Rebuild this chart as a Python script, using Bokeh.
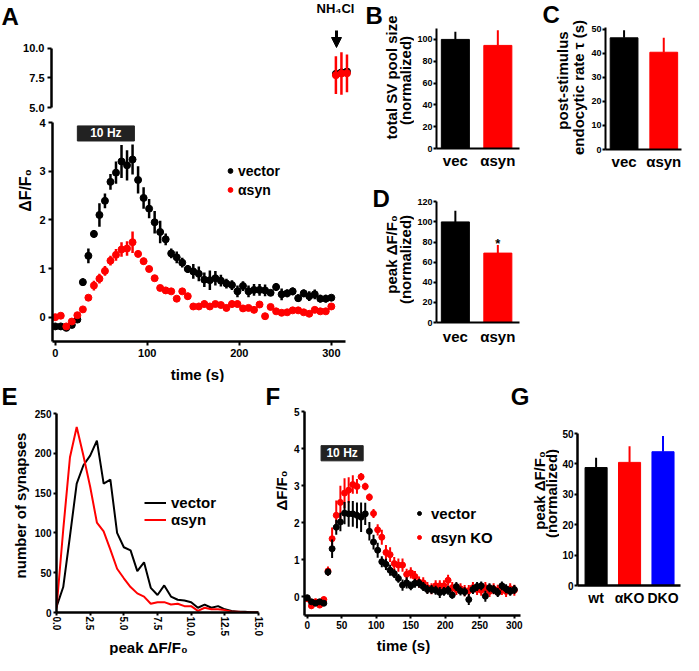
import math
from bokeh.plotting import figure
from bokeh.layouts import row, column
from bokeh.models import (Range1d, Label, Legend, LegendItem, FixedTicker,
                          PrintfTickFormatter, Arrow, NormalHead, Spacer, ColumnDataSource)
from bokeh.embed import file_html
from bokeh.resources import INLINE

FONT = "Liberation Sans"
BLACK = "#000000"
RED = "#ff0000"
BLUE = "#0000ff"

# ---------------- data ----------------
# Panel A: time course (s) and dF/F0
t_A = list(range(0, 301, 6))
vec_A = [-0.19, -0.19, -0.22, -0.16, -0.05, 0.72, 1.26, 1.71, 2.10, 2.39,
         2.78, 2.97, 3.20, 3.12, 3.24, 2.82, 2.45, 2.23, 1.95, 1.75,
         1.60, 1.31, 1.23, 1.12, 0.99, 0.94, 0.89, 0.77, 0.76, 0.80,
         0.75, 0.69, 0.66, 0.53, 0.64, 0.53, 0.56, 0.56, 0.55, 0.50,
         0.62, 0.47, 0.49, 0.53, 0.39, 0.49, 0.43, 0.47, 0.38, 0.38, 0.40]
vec_A_err = [0.05, 0.04, 0.05, 0.05, 0.05, 0.08, 0.15, 0.08, 0.24, 0.15,
             0.16, 0.23, 0.34, 0.31, 0.31, 0.28, 0.22, 0.20, 0.23, 0.23,
             0.12, 0.10, 0.12, 0.10, 0.08, 0.15, 0.15, 0.15, 0.20, 0.15,
             0.12, 0.10, 0.10, 0.12, 0.10, 0.12, 0.12, 0.12, 0.12, 0.05,
             0.08, 0.12, 0.08, 0.08, 0.08, 0.08, 0.10, 0.10, 0.08, 0.08, 0.05]
syn_A = [0.00, 0.03, -0.19, -0.09, 0.04, 0.16, 0.40, 0.65, 0.79, 0.95,
         1.16, 1.28, 1.39, 1.41, 1.54, 1.30, 1.15, 0.99, 0.80, 0.60,
         0.55, 0.53, 0.38, 0.53, 0.43, 0.22, 0.22, 0.27, 0.22, 0.27,
         0.25, 0.19, 0.27, 0.27, 0.18, 0.19, 0.15, 0.26, 0.02, 0.21,
         0.12, 0.09, 0.10, 0.14, 0.14, 0.10, 0.07, 0.15, 0.12, 0.12, 0.22]
syn_A_err = [0.03, 0.03, 0.04, 0.04, 0.05, 0.04, 0.04, 0.10, 0.10, 0.10,
             0.10, 0.12, 0.15, 0.15, 0.22, 0.07, 0.07, 0.04, 0.04, 0.04,
             0.04, 0.04, 0.04, 0.04, 0.07, 0.04, 0.06, 0.07, 0.04, 0.04,
             0.06, 0.07, 0.07, 0.07, 0.06, 0.05, 0.05, 0.04, 0.04, 0.05,
             0.04, 0.04, 0.04, 0.05, 0.06, 0.05, 0.06, 0.04, 0.04, 0.04, 0.04]
stim_A = (24, 86)
# NH4Cl points
t_nh4 = [305, 311, 317]
vec_nh4 = [7.85, 7.98, 8.05]
vec_nh4_err = [0.3, 0.3, 0.3]
syn_nh4 = [7.74, 7.88, 7.90]
syn_nh4_err = [1.6, 1.8, 1.6]

# Panels B, C, D: bars (vector, alpha-syn)
bar_labels = ["vec", "αsyn"]
pool_B = [100, 94.5]
pool_B_err = [7, 14]
tau_C = [46.5, 40.5]
tau_C_err = [3.2, 6]
peak_D = [100, 69]
peak_D_err = [11, 8]

# Panel E: histogram of peak dF/F0
E_x = [i * 0.5 for i in range(31)]
E_vec = [7, 32, 96, 162, 185, 197, 216, 162, 167, 100, 82, 78, 52, 63, 31, 22,
         34, 20, 16, 15, 13, 6, 10, 6, 8, 4, 2, 1, 1, 0, 0]
E_syn = [5, 104, 195, 233, 197, 158, 113, 102, 79, 55, 43, 32, 24, 20, 11, 13,
         13, 10, 11, 8, 8, 2, 6, 4, 4, 3, 1, 1, 0, 0, 0]

# Panel F: time course, vector vs alpha-syn KO
t_F = list(range(0, 301, 6))
vec_F = [-0.02, -0.13, -0.17, -0.13, -0.17, 0.67, 1.30, 1.88, 2.02, 2.26,
         2.24, 2.24, 2.20, 2.15, 2.24, 1.77, 1.48, 1.26, 0.95, 0.88,
         0.72, 0.63, 0.50, 0.32, 0.38, 0.30, 0.37, 0.37, 0.28, 0.20,
         0.20, 0.18, 0.12, 0.15, 0.18, 0.05, 0.28, 0.16, 0.14, -0.07,
         0.20, 0.28, 0.30, 0.02, 0.25, 0.20, 0.12, 0.30, 0.22, 0.15, 0.20]
vec_F_err = [0.07, 0.07, 0.07, 0.07, 0.07, 0.10, 0.25, 0.20, 0.25, 0.30,
             0.35, 0.35, 0.35, 0.40, 0.30, 0.25, 0.20, 0.20, 0.15, 0.15,
             0.15, 0.12, 0.12, 0.15, 0.15, 0.12, 0.12, 0.12, 0.12, 0.12,
             0.12, 0.12, 0.15, 0.12, 0.12, 0.10, 0.12, 0.12, 0.12, 0.15,
             0.12, 0.12, 0.12, 0.15, 0.12, 0.12, 0.12, 0.12, 0.12, 0.12, 0.12]
syn_F = [-0.05, -0.24, -0.13, -0.22, -0.07, 0.70, 1.57, 2.20, 2.55, 2.80,
         2.88, 3.03, 2.98, 3.24, 2.98, 2.69, 2.25, 1.81, 1.61, 1.20,
         1.14, 0.90, 0.86, 0.86, 0.61, 0.65, 0.55, 0.40, 0.38, 0.25,
         0.22, 0.30, 0.30, 0.30, 0.45, 0.25, 0.20, 0.22, 0.17, 0.17,
         0.25, 0.20, 0.18, 0.25, 0.15, 0.22, 0.18, 0.20, 0.15, 0.22, 0.18]
syn_F_err = [0.08, 0.08, 0.08, 0.08, 0.08, 0.12, 0.30, 0.40, 0.45, 0.40,
             0.35, 0.25, 0.20, 0.10, 0.10, 0.10, 0.12, 0.15, 0.20, 0.20,
             0.20, 0.18, 0.18, 0.18, 0.15, 0.15, 0.15, 0.15, 0.15, 0.15,
             0.15, 0.15, 0.15, 0.15, 0.15, 0.15, 0.15, 0.15, 0.15, 0.15,
             0.15, 0.15, 0.15, 0.15, 0.15, 0.15, 0.15, 0.15, 0.15, 0.15, 0.15]
stim_F = (20, 81)

# Panel G: bars (wt, alpha KO, DKO)
G_labels = ["wt", "αKO", "DKO"]
G_vals = [38.8, 40.5, 44.0]
G_err = [3.2, 5.3, 5.2]
G_colors = [BLACK, RED, BLUE]


# ---------------- helpers ----------------
def W(p):
    # wrap each plot so that sibling plots do not get their borders aligned
    return column(p)


def mklabel(x, y, s, size, align="center", baseline="middle", angle=0, color=BLACK):
    return Label(x=x, y=y, text=s, text_font=FONT, text_font_size=f"{size}px",
                 text_font_style="bold", text_align=align, text_baseline=baseline,
                 angle=angle, text_color=color)


class Panel:
    def __init__(self, ox, oy, w, h, left, right, top, bottom, xr, yr, **kw):
        self.fl = ox + left
        self.ft = oy + top
        self.fw = w - left - right
        self.fh = h - top - bottom
        self.xr, self.yr = xr, yr
        p = figure(width=w, height=h, x_range=Range1d(*xr), y_range=Range1d(*yr),
                   output_backend="svg", toolbar_location=None,
                   min_border_left=left, min_border_right=right,
                   min_border_top=top, min_border_bottom=bottom, **kw)
        p.outline_line_color = None
        p.grid.visible = False
        p.background_fill_color = "white"
        p.border_fill_color = "white"
        self.p = p

    def dx(self, px):
        return self.xr[0] + (px - self.fl) / self.fw * (self.xr[1] - self.xr[0])

    def dy(self, py):
        return self.yr[1] - (py - self.ft) / self.fh * (self.yr[1] - self.yr[0])

    def text(self, px, py, s, size, **kw):
        self.p.add_layout(mklabel(self.dx(px), self.dy(py), s, size, **kw))


class Strip:
    """A plain plot used only to carry text (frame covers the whole area)."""
    def __init__(self, ox, oy, w, h):
        self.ox, self.oy, self.h = ox, oy, h
        p = figure(width=w, height=h, x_range=Range1d(0, w), y_range=Range1d(0, h),
                   x_axis_location=None, y_axis_location=None,
                   output_backend="svg", toolbar_location=None,
                   min_border_left=0, min_border_right=0,
                   min_border_top=0, min_border_bottom=0)
        p.outline_line_color = None
        p.grid.visible = False
        p.background_fill_color = "white"
        p.border_fill_color = "white"
        self.p = p

    def text(self, px, py, s, size, **kw):
        self.p.add_layout(mklabel(px - self.ox, self.h - (py - self.oy), s, size, **kw))


def style_axis(ax, size, lw=2.5, ticks=None, fmt=None, tick_out=4, standoff=3):
    ax.axis_line_width = lw
    ax.axis_line_color = BLACK
    ax.major_tick_line_width = 2
    ax.major_tick_line_color = BLACK
    ax.major_tick_out = tick_out
    ax.major_tick_in = 0
    ax.minor_tick_line_color = None
    ax.major_label_text_font = FONT
    ax.major_label_text_font_style = "bold"
    ax.major_label_text_font_size = f"{size}px"
    ax.major_label_text_color = BLACK
    ax.major_label_standoff = standoff
    if ticks is not None:
        ax.ticker = FixedTicker(ticks=ticks)
    if fmt is not None:
        ax.formatter = PrintfTickFormatter(format=fmt)


def cat_axis(ax, labels, size, standoff):
    ax.ticker = FixedTicker(ticks=list(range(1, len(labels) + 1)))
    ax.major_label_overrides = {i + 1: lab for i, lab in enumerate(labels)}
    ax.major_tick_line_color = None
    ax.major_tick_out = 0
    ax.major_label_text_font_size = f"{size}px"
    ax.major_label_standoff = standoff


def errbars(p, x, y, e, color, lw):
    src = ColumnDataSource(dict(x=x, lo=[a - b for a, b in zip(y, e)],
                                hi=[a + b for a, b in zip(y, e)]))
    p.segment(x0="x", y0="lo", x1="x", y1="hi", source=src, line_color=color,
              line_width=lw)


def bars(p, vals, errs, colors, width):
    xs = list(range(1, len(vals) + 1))
    p.vbar(x=xs, top=vals, bottom=0, width=width, fill_color=colors,
           line_color=colors)
    p.segment(x0=xs, y0=vals, x1=xs, y1=[v + e for v, e in zip(vals, errs)],
              line_color=colors, line_width=2)


def legend(p, items, loc, gw, gh, standoff, size):
    lg = Legend(items=[LegendItem(label=l, renderers=[r]) for l, r in items],
                location=loc, glyph_width=gw, glyph_height=gh, label_height=gh,
                label_standoff=standoff, spacing=0, padding=0, margin=0,
                border_line_color=None, background_fill_alpha=0,
                label_text_font=FONT, label_text_font_style="bold",
                label_text_font_size=f"{size}px", label_text_color=BLACK)
    p.add_layout(lg)


ROT = math.pi / 2
LET = 24  # panel letter size

# ---------------- Panel A (broken axis) ----------------
A_strip = Strip(8, 8, 364, 29)
A_strip.text(9, 23.5, "A", LET, align="left")
A_strip.text(343, 16, "NH₄Cl", 13)

Au = Panel(8, 37, 364, 85, 51, 13, 0, 7, (-3, 321.9), (5, 11.61), x_axis_location=None)
style_axis(Au.p.yaxis[0], 11, ticks=[5, 7.5, 10], fmt="%.1f")
Au.p.yaxis[0].bounds = (5, 10)
errbars(Au.p, t_nh4, vec_nh4, vec_nh4_err, BLACK, 2.5)
Au.p.scatter(t_nh4, vec_nh4, size=7, color=BLACK)
errbars(Au.p, t_nh4, syn_nh4, syn_nh4_err, RED, 2.5)
Au.p.scatter(t_nh4, syn_nh4, size=7, color=RED)
Au.p.add_layout(Arrow(end=NormalHead(size=10, fill_color=BLACK, line_color=BLACK),
                      x_start=Au.dx(344), y_start=Au.dy(38), x_end=Au.dx(344),
                      y_end=Au.dy(55), line_width=3, line_color=BLACK))

A_ylab = Strip(8, 122, 36, 268)
A_ylab.text(33, 198, "ΔF/F₀", 16, angle=ROT)

Al = Panel(44, 122, 328, 248, 15, 19, 8, 21, (-3, 315.4), (-0.5, 4))
style_axis(Al.p.yaxis[0], 11, ticks=[0, 1, 2, 3, 4])
style_axis(Al.p.xaxis[0], 11, ticks=[0, 100, 200, 300])
Al.p.quad(left=[stim_A[0]], right=[stim_A[1]], bottom=[3.62], top=[3.93],
          fill_color="#222222", line_color="#222222")
Al.p.add_layout(mklabel((stim_A[0] + stim_A[1]) / 2, 3.775, "10 Hz", 12, color="white"))
errbars(Al.p, t_A, vec_A, vec_A_err, BLACK, 2.5)
rv = Al.p.scatter(t_A, vec_A, size=7, color=BLACK)
errbars(Al.p, t_A, syn_A, syn_A_err, RED, 2.5)
rs = Al.p.scatter(t_A, syn_A, size=7, color=RED)
legend(Al.p, [("vector", rv), ("αsyn", rs)], (172, 142), 12, 19, 2, 14)

A_xlab = Strip(44, 370, 328, 20)
A_xlab.text(205, 381.5, "time (s)", 15)

A_block = column(W(A_strip.p), W(Au.p),
                 row(W(A_ylab.p), column(W(Al.p), W(A_xlab.p))))

# ---------------- Panel B ----------------
B_text = Strip(372, 8, 50, 180)
B_text.text(373, 22.5, "B", LET, align="left")
B_text.text(399, 85, "total SV pool size", 15, angle=ROT)
B_text.text(413, 88, "(normalized)", 15, angle=ROT)

B = Panel(422, 8, 113, 180, 20, 8, 28, 32, (0.556, 2.51), (0, 110))
style_axis(B.p.yaxis[0], 9, lw=2, ticks=[0, 20, 40, 60, 80, 100], tick_out=3, standoff=1)
style_axis(B.p.xaxis[0], 15, lw=2)
cat_axis(B.p.xaxis[0], bar_labels, 15, 3)
bars(B.p, pool_B, pool_B_err, [BLACK, RED], 0.66)

# ---------------- Panel C ----------------
C_text = Strip(535, 8, 61, 180)
C_text.text(550, 22, "C", LET, align="left")
C_text.text(570, 88, "post-stimulus", 15, angle=ROT)
C_text.text(586, 95, "endocytic rate τ (s)", 15, angle=ROT)

C = Panel(596, 8, 95, 180, 16, 2, 27, 31, (0.532, 2.447), (0, 50.8))
style_axis(C.p.yaxis[0], 9, lw=2, ticks=[0, 10, 20, 30, 40, 50], tick_out=3, standoff=1)
style_axis(C.p.xaxis[0], 15, lw=2)
cat_axis(C.p.xaxis[0], bar_labels, 15, 3)
bars(C.p, tau_C, tau_C_err, [BLACK, RED], 0.70)

# ---------------- Panel D ----------------
D_text = Strip(372, 188, 50, 202)
D_text.text(380, 206, "D", LET, align="left")
D_text.text(399, 262, "peak ΔF/F₀", 15, angle=ROT)
D_text.text(413, 267, "(normalized)", 15, angle=ROT)

D = Panel(422, 188, 113, 202, 20, 8, 21, 60, (0.556, 2.51), (0, 120.3))
style_axis(D.p.yaxis[0], 9, lw=2, ticks=[0, 20, 40, 60, 80, 100, 120], tick_out=3, standoff=1)
style_axis(D.p.xaxis[0], 15, lw=2)
cat_axis(D.p.xaxis[0], bar_labels, 15, 5)
bars(D.p, peak_D, peak_D_err, [BLACK, RED], 0.66)
D.p.add_layout(mklabel(2, peak_D[1] + peak_D_err[1] + 2, "*", 13))

right_block = column(row(W(B_text.p), W(B.p), W(C_text.p), W(C.p)),
                     row(W(D_text.p), W(D.p), Spacer(width=156, height=202)))

# ---------------- Panel E ----------------
E_text = Strip(8, 392, 31, 273)
E_text.text(9, 406, "E", LET, align="left")
E_text.text(28, 515, "number of synapses", 15, angle=ROT)

E = Panel(39, 392, 233, 256, 23, 6, 31, 24, (0, 15), (0, 250))
style_axis(E.p.yaxis[0], 10, ticks=[0, 50, 100, 150, 200, 250], tick_out=3, standoff=2)
style_axis(E.p.xaxis[0], 10, ticks=[0, 2.5, 5, 7.5, 10, 12.5, 15], fmt="%.1f",
           tick_out=3, standoff=1)
E.p.xaxis.major_label_orientation = "vertical"
le_v = E.p.line(E_x, E_vec, line_color=BLACK, line_width=2)
le_s = E.p.line(E_x, E_syn, line_color=RED, line_width=2)
legend(E.p, [("vector", le_v), ("αsyn", le_s)], (88, 84), 22, 15, 5, 15)

E_xlab = Strip(39, 648, 233, 17)
E_xlab.text(156, 656.5, "peak ΔF/F₀", 15)

E_block = row(W(E_text.p), column(W(E.p), W(E_xlab.p)))

# ---------------- Panel F (frame extends up/right; axes bounded) ----------------
F_ylab = Strip(272, 392, 26, 273)
F_ylab.text(273, 406, "F", LET, align="left")
F_ylab.text(289, 500, "ΔF/F₀", 15, angle=ROT)

F = Panel(298, 392, 240, 254, 12, 0, 0, 21, (-4, 323.4), (-0.5, 5.782))
style_axis(F.p.yaxis[0], 10, ticks=[0, 1, 2, 3, 4, 5], tick_out=3, standoff=2)
style_axis(F.p.xaxis[0], 10, ticks=[0, 50, 100, 150, 200, 250, 300], tick_out=3, standoff=2)
F.p.yaxis[0].bounds = (-0.5, 5)
F.p.xaxis[0].bounds = (-4, 309)
F.p.quad(left=[stim_F[0]], right=[stim_F[1]], bottom=[3.67], top=[4.08],
         fill_color="#222222", line_color="#222222")
F.p.add_layout(mklabel((stim_F[0] + stim_F[1]) / 2, 3.875, "10 Hz", 12, color="white"))
errbars(F.p, t_F, syn_F, syn_F_err, RED, 2)
fs = F.p.scatter(t_F, syn_F, size=6, color=RED)
errbars(F.p, t_F, vec_F, vec_F_err, BLACK, 2)
fv = F.p.scatter(t_F, vec_F, size=6, color=BLACK)
legend(F.p, [("vector", fv), ("αsyn KO", fs)], (110, 66), 10, 24, 7, 15)
F.text(518, 406, "G", LET, align="left")

F_xlab = Strip(298, 646, 240, 19)
F_xlab.text(411, 655, "time (s)", 15)

F_block = row(W(F_ylab.p), column(W(F.p), W(F_xlab.p)))

# ---------------- Panel G ----------------
G_text = Strip(538, 392, 29, 273)
G_text.text(546.5, 500, "peak ΔF/F₀", 15, angle=ROT)
G_text.text(558.5, 503, "(normalized)", 15, angle=ROT)

G = Panel(567, 392, 124, 273, 16, 3, 51, 70, (0.444, 3.523), (0, 50))
style_axis(G.p.yaxis[0], 10, ticks=[0, 10, 20, 30, 40, 50], tick_out=3, standoff=1)
style_axis(G.p.xaxis[0], 14)
cat_axis(G.p.xaxis[0], G_labels, 14, 4)
bars(G.p, G_vals, G_err, G_colors, 0.66)

G_block = row(W(G_text.p), W(G.p))

# ---------------- layout ----------------
top = row(A_block, right_block)
bottom = row(E_block, F_block, G_block)
layout = column(top, bottom)

open("out.html", "w").write(file_html(layout, INLINE))
